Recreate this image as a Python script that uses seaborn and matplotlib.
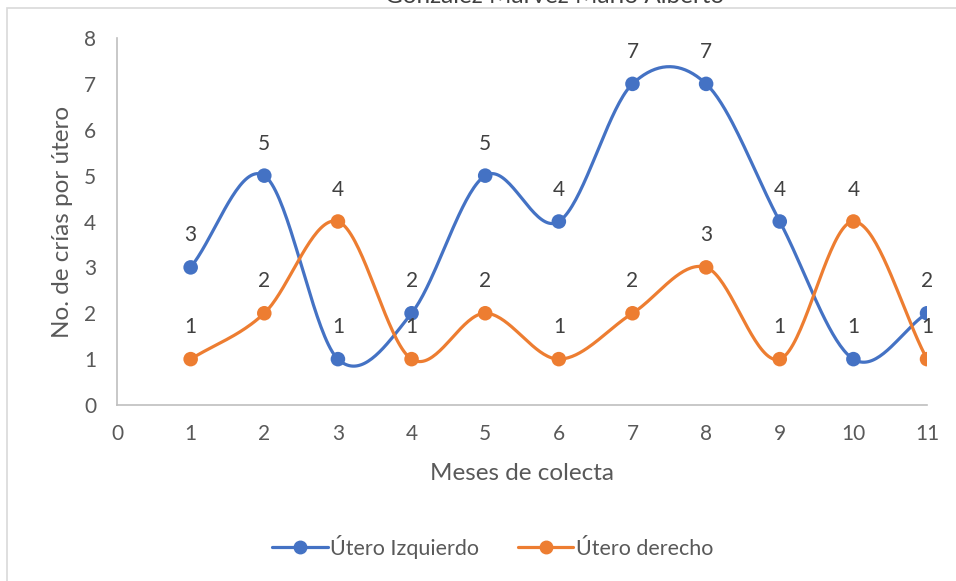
import numpy as np
import pandas as pd
import seaborn as sns
import matplotlib.pyplot as plt
from matplotlib.patches import Rectangle

meses = [1, 2, 3, 4, 5, 6, 7, 8, 9, 10, 11]
utero_izq = [3, 5, 1, 2, 5, 4, 7, 7, 4, 1, 2]
utero_der = [1, 2, 4, 1, 2, 1, 2, 3, 1, 4, 1]

series = {"Útero Izquierdo": utero_izq, "Útero derecho": utero_der}
colores = {"Útero Izquierdo": "#4472C4", "Útero derecho": "#ED7D31"}

df = pd.DataFrame({
    "mes": meses * 2,
    "valor": utero_izq + utero_der,
    "serie": ["Útero Izquierdo"] * len(meses) + ["Útero derecho"] * len(meses),
})


def suavizar(x, y, n=40):
    # curva tipo Catmull-Rom como el "suavizado" de Excel
    x = np.asarray(x, float)
    y = np.asarray(y, float)
    px = np.concatenate([[2 * x[0] - x[1]], x, [2 * x[-1] - x[-2]]])
    py = np.concatenate([[2 * y[0] - y[1]], y, [2 * y[-1] - y[-2]]])
    xs, ys = [], []
    t = np.linspace(0, 1, n)
    for i in range(1, len(px) - 2):
        p0, p1, p2, p3 = py[i - 1], py[i], py[i + 1], py[i + 2]
        q0, q1, q2, q3 = px[i - 1], px[i], px[i + 1], px[i + 2]
        m1y, m2y = (p2 - p0) / 2, (p3 - p1) / 2
        m1x, m2x = (q2 - q0) / 2, (q3 - q1) / 2
        h00 = 2 * t**3 - 3 * t**2 + 1
        h10 = t**3 - 2 * t**2 + t
        h01 = -2 * t**3 + 3 * t**2
        h11 = t**3 - t**2
        xs.append(h00 * q1 + h10 * m1x + h01 * q2 + h11 * m2x)
        ys.append(h00 * p1 + h10 * m1y + h01 * p2 + h11 * m2y)
    return np.concatenate(xs), np.concatenate(ys)


sns.set_style("white")
plt.rcParams["font.family"] = ["Lato", "DejaVu Sans"]

fig = plt.figure(figsize=(9.56, 5.81), dpi=100)
ax = fig.add_axes([0.1224, 0.3029, 0.8473, 0.6317])

for nombre, vals in series.items():
    sx, sy = suavizar(meses, vals)
    ax.plot(sx, sy, color=colores[nombre], lw=2.3, zorder=2)

sns.scatterplot(data=df, x="mes", y="valor", hue="serie", palette=colores,
                s=110, edgecolor="none", legend=False, ax=ax, zorder=3)

for nombre, vals in series.items():
    for m, v in zip(meses, vals):
        ax.annotate(str(v), (m, v), xytext=(0, 23), textcoords="offset points",
                    ha="center", va="center", fontsize=15, color="#404040")

ax.set_xlim(0, 11)
ax.set_ylim(0, 8)
ax.set_xticks(range(0, 12))
ax.set_yticks(range(0, 9))
ax.tick_params(axis="both", length=0, labelsize=15, labelcolor="#595959")
ax.tick_params(axis="x", pad=14)
ax.tick_params(axis="y", pad=15)
for s in ["top", "right"]:
    ax.spines[s].set_visible(False)
for s in ["left", "bottom"]:
    ax.spines[s].set_color("#BFBFBF")
    ax.spines[s].set_linewidth(1.2)

ax.set_xlabel("Meses de colecta", fontsize=17.5, color="#595959", labelpad=13)
ax.set_ylabel("No. de crías por útero", fontsize=17.5, color="#595959", labelpad=8)

# leyenda
handles = [plt.Line2D([], [], color=colores[k], lw=2.3, marker="o", markersize=9)
           for k in series]
fig.legend(handles, list(series.keys()), loc="center", bbox_to_anchor=(0.515, 0.0585),
           ncol=2, frameon=False, fontsize=15.5, handlelength=2.6, handletextpad=0.1,
           columnspacing=1.8, labelcolor="#595959")

# titulo cortado arriba y borde del área del gráfico
fig.text(0.58, 1 - 3 / 581, "Gonzalez Marvez Mario Alberto", ha="center",
         va="baseline", fontsize=17.5, color="#404040")
fig.patches.append(Rectangle((7 / 956, -0.1), 1.2, 1.1 - 8 / 581, transform=fig.transFigure,
                             fill=False, edgecolor="#D9D9D9", lw=1.2))

fig.savefig("out.png", dpi=100)
